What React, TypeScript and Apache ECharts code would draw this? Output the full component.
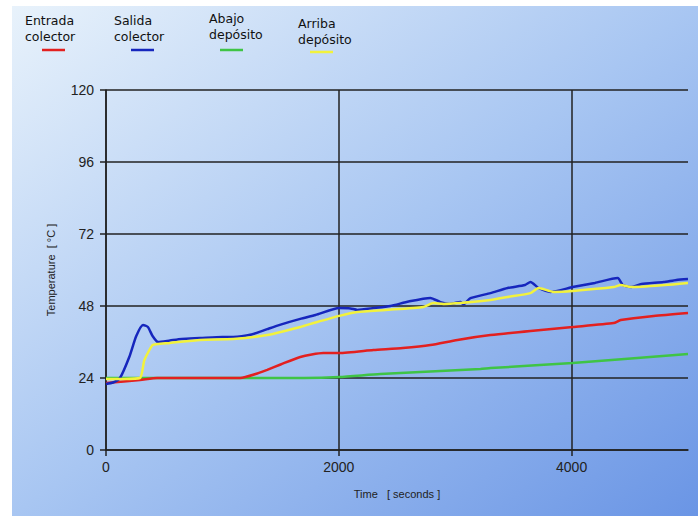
import React, { useEffect, useRef } from "react";
import * as echarts from "echarts";

// Salida colector (blue)
const blueT = [0, 60, 120, 200, 260, 318, 360, 400, 447, 550, 650, 809, 1000, 1092, 1250, 1385, 1500, 1669, 1800, 2004, 2100, 2159, 2300, 2443, 2600, 2787, 2873, 2950, 3045, 3071, 3131, 3303, 3450, 3600, 3647, 3716, 3819, 4009, 4200, 4396, 4439, 4508, 4600, 4791, 4900, 5000];
const blueV = [22, 22.5, 24, 31, 38, 41.7, 41, 38, 36, 36.5, 37, 37.3, 37.7, 37.7, 38.5, 40.3, 41.8, 43.7, 45, 47.3, 47.2, 46.7, 47.3, 48, 49.5, 50.7, 49.3, 48.7, 49.3, 48.6, 50.6, 52.3, 54, 55, 56, 54, 52.7, 54.3, 55.7, 57.3, 55, 54.3, 55.3, 56, 56.7, 57];

// Arriba depósito (yellow)
const yellowT = [0, 150, 292, 330, 400, 439, 550, 809, 1092, 1385, 1669, 1800, 2004, 2159, 2400, 2727, 2813, 2900, 3303, 3450, 3647, 3716, 3845, 4009, 4361, 4422, 4508, 4800, 5000];
const yellowV = [23.7, 23.7, 24, 30, 35, 35.3, 35.7, 36.7, 37, 38.3, 41, 42.5, 44.7, 46, 46.7, 47.7, 49, 48.7, 50, 51, 52.3, 54, 52.7, 53, 54.3, 55, 54.3, 55, 55.7];

// Entrada colector (red)
const redT = [0, 292, 439, 1153, 1300, 1385, 1500, 1669, 1867, 2004, 2297, 2550, 2787, 3019, 3303, 3647, 4009, 4361, 4422, 4705, 5000];
const redV = [22.3, 23.3, 24, 24, 25.5, 26.7, 28.5, 31, 32.3, 32.3, 33.3, 34, 35, 36.7, 38.3, 39.7, 41, 42.3, 43.3, 44.7, 45.7];

// Abajo depósito (green)
const greenT = [0, 1700, 2004, 2357, 3217, 3303, 4009, 5000];
const greenV = [24, 24, 24.3, 25.3, 27, 27.3, 29, 32];

const xTicks = [0, 2000, 4000];

const seriesNames = ["Entrada colector", "Salida colector", "Abajo depósito", "Arriba depósito"];
const legendLines = [["Entrada", "colector"], ["Salida", "colector"], ["Abajo", "depósito"], ["Arriba", "depósito"]];
const colors = ["#e3201f", "#1626bd", "#3fc445", "#f2f23c"];

const pairs = (t: number[], v: number[]) => t.map((x, i) => [x, v[i]]);

export default function App() {
  const ref = useRef<HTMLDivElement>(null);
  useEffect(() => {
    if (!ref.current) return;
    const chart = echarts.init(ref.current, null, { renderer: "svg" });
    const legendPos = [
      { x: 25, y: 12, lx: 42, ly: 50 },
      { x: 114, y: 12, lx: 131, ly: 50 },
      { x: 209, y: 10, lx: 220, ly: 50 },
      { x: 298, y: 15, lx: 310, ly: 52 },
    ];
    const legendGraphics: any[] = [];
    legendLines.forEach((ln, i) => {
      const p = legendPos[i];
      legendGraphics.push({
        type: "text",
        x: p.x,
        y: p.y,
        style: {
          text: ln.join("\n"),
          font: "12.5px 'DejaVu Sans'",
          lineHeight: 16,
          fill: "#111",
        },
      });
      legendGraphics.push({
        type: "line",
        shape: { x1: p.lx, y1: p.ly, x2: p.lx + 23, y2: p.ly },
        style: { stroke: colors[i], lineWidth: 2.5 },
      });
    });
    chart.setOption({
      animation: false,
      backgroundColor: "#ffffff",
      graphic: [
        {
          type: "rect",
          z: -10,
          silent: true,
          shape: { x: 12, y: 6, width: 686, height: 510 },
          style: {
            fill: new echarts.graphic.LinearGradient(0, 0, 1, 1, [
              { offset: 0, color: "#e8f2fb" },
              { offset: 0.5, color: "#a8c6f2" },
              { offset: 1, color: "#6a95e5" },
            ]),
          },
        },
        ...legendGraphics,
      ],
      grid: { left: 106, top: 90, right: 10, bottom: 66 },
      xAxis: {
        type: "value",
        min: 0,
        max: 5000,
        interval: 2000,
        name: "Time   [ seconds ]",
        nameLocation: "middle",
        nameGap: 38,
        nameTextStyle: { fontFamily: "Liberation Sans", fontSize: 11, color: "#222" },
        axisLine: { show: true, lineStyle: { color: "#222", width: 1.5 } },
        axisTick: { show: true, length: 6, lineStyle: { color: "#222", width: 1.5 }, customValues: xTicks },
        axisLabel: {
          fontFamily: "Liberation Sans",
          fontSize: 14,
          color: "#222",
          margin: 10,
          customValues: xTicks,
          formatter: (v: number) => String(v),
        },
        splitLine: { show: true, lineStyle: { color: "#222", width: 1.5 } },
      },
      yAxis: {
        type: "value",
        min: 0,
        max: 120,
        interval: 24,
        name: "Temperature  [ °C ]",
        nameLocation: "middle",
        nameGap: 50,
        nameTextStyle: { fontFamily: "Liberation Sans", fontSize: 11, color: "#222" },
        axisLine: { show: true, lineStyle: { color: "#222", width: 1.5 } },
        axisTick: { show: true, length: 6, lineStyle: { color: "#222", width: 1.5 } },
        axisLabel: { fontFamily: "Liberation Sans", fontSize: 14, color: "#222", margin: 12 },
        splitLine: { show: true, lineStyle: { color: "#222", width: 1.5 } },
      },
      series: [
        { name: seriesNames[2], data: pairs(greenT, greenV), color: colors[2] },
        { name: seriesNames[0], data: pairs(redT, redV), color: colors[0] },
        { name: seriesNames[1], data: pairs(blueT, blueV), color: colors[1] },
        { name: seriesNames[3], data: pairs(yellowT, yellowV), color: colors[3] },
      ].map((s) => ({
        ...s,
        type: "line",
        showSymbol: false,
        smooth: 0.2,
        lineStyle: { width: 2.5, color: s.color },
      })),
    });
    return () => chart.dispose();
  }, []);
  return <div ref={ref} style={{ width: 698, height: 516, position: "absolute", left: 0, top: 0 }} />;
}
